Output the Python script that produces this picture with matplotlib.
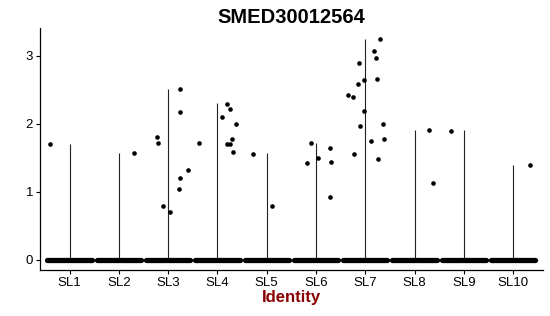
import matplotlib
matplotlib.use("Agg")
import matplotlib.pyplot as plt

plt.rcParams['font.family'] = ['Liberation Sans', 'DejaVu Sans']

# groups and the max expression per group (violin height)
groups = ['SL1', 'SL2', 'SL3', 'SL4', 'SL5', 'SL6', 'SL7', 'SL8', 'SL9', 'SL10']
group_max = [1.71, 1.57, 2.51, 2.31, 1.57, 1.72, 3.25, 1.91, 1.91, 1.40]

# non-zero cells: group index, jitter offset, expression value
pt_group = [0,
            1,
            2, 2, 2, 2, 2, 2, 2, 2, 2,
            3, 3, 3, 3, 3, 3, 3, 3, 3,
            4, 4,
            5, 5, 5, 5, 5, 5,
            6, 6, 6, 6, 6, 6, 6, 6, 6, 6, 6, 6, 6, 6, 6, 6,
            7, 7,
            8,
            9]
pt_jitter = [-0.39,
             0.30,
             -0.22, -0.20, 0.24, 0.24, -0.10, 0.04, 0.22, 0.24, 0.40,
             0.20, 0.26, 0.10, 0.38, 0.30, 0.20, 0.26, 0.32, -0.37,
             -0.28, 0.10,
             -0.10, 0.04, 0.28, -0.18, 0.30, 0.28,
             0.30, 0.18, 0.22, -0.12, 0.24, -0.02, -0.14, -0.35, -0.25, -0.02,
             -0.10, 0.36, 0.12, 0.38, 0.26, -0.22,
             0.30, 0.38,
             -0.26,
             0.35]
pt_value = [1.71,
            1.57,
            1.81, 1.72, 2.51, 2.18, 0.80, 0.71, 1.04, 1.20, 1.32,
            2.30, 2.22, 2.10, 2.00, 1.78, 1.70, 1.70, 1.59, 1.72,
            1.56, 0.80,
            1.72, 1.50, 1.65, 1.43, 1.44, 0.92,
            3.25, 3.07, 2.97, 2.90, 2.66, 2.64, 2.59, 2.43, 2.40, 2.19,
            1.97, 2.00, 1.75, 1.78, 1.48, 1.56,
            1.91, 1.13,
            1.90,
            1.40]

fig = plt.figure(figsize=(5.5, 3.16), dpi=100)
ax = fig.add_axes([0.0727, 0.146, 0.914, 0.765])

xs = list(range(1, len(groups) + 1))

# violins collapse to a thin vertical line since most cells are zero
ax.vlines(xs, 0, group_max, color='#222222', linewidth=0.8, zorder=2)

# zero-valued cells form a dense band of jittered dots
ax.hlines([0] * len(xs), [x - 0.45 for x in xs], [x + 0.45 for x in xs],
          color='black', linewidth=3.8, capstyle='round', zorder=3)

px = [xs[g] + j for g, j in zip(pt_group, pt_jitter)]
ax.scatter(px, pt_value, s=11, color='black', linewidths=0, zorder=4)

ax.set_xlim(0.4, 10.6)
ax.set_ylim(-0.147, 3.41)
ax.set_xticks(xs)
ax.set_xticklabels(groups)
ax.set_yticks([0, 1, 2, 3])
for s in ['top', 'right']:
    ax.spines[s].set_visible(False)
for s in ['left', 'bottom']:
    ax.spines[s].set_linewidth(0.9)
ax.tick_params(axis='both', labelsize=9.5, length=3, width=0.8, colors='black', pad=2)

ax.set_xlabel('Identity', fontsize=12, fontweight='bold', color='#8B0000', labelpad=1)
ax.set_title('SMED30012564', fontsize=14.5, fontweight='bold', pad=4)

fig.savefig('out.png', dpi=100)
